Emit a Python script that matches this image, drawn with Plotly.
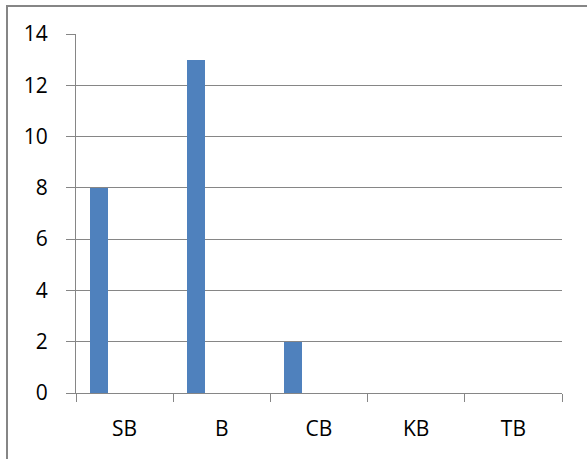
import plotly.graph_objects as go

# Counts per category
categories = ["SB", "B", "CB", "KB", "TB"]
counts = [8, 13, 2, 0, 0]

W, H = 587, 459
L, R, T, B = 76, 25, 34, 66
pw, ph = W - L - R, H - T - B

def px_x(x):
    return (x - L) / pw

def px_y(y):
    return 1 - (y - T) / ph

axis_gray = "#868686"
font = dict(family="Open Sans", size=21, color="#000000")

fig = go.Figure(
    go.Bar(
        x=categories,
        y=counts,
        marker=dict(color="#4F81BD", line=dict(width=0)),
        offset=-0.36,
        width=0.185,
    )
)

fig.update_layout(
    width=W,
    height=H,
    margin=dict(l=L, r=R, t=T, b=B, pad=0),
    paper_bgcolor="white",
    plot_bgcolor="white",
    showlegend=False,
    font=font,
    bargap=0,
    shapes=[
        # chart frame: top and left edges
        dict(type="line", xref="paper", yref="paper", layer="above",
             x0=px_x(6), x1=px_x(W), y0=px_y(6), y1=px_y(6),
             line=dict(color=axis_gray, width=2)),
        dict(type="line", xref="paper", yref="paper", layer="above",
             x0=px_x(7), x1=px_x(7), y0=px_y(5), y1=px_y(H),
             line=dict(color=axis_gray, width=2)),
    ],
)

fig.update_xaxes(
    type="category",
    range=[-0.5, 4.5],
    showgrid=False,
    showline=True,
    linecolor=axis_gray,
    linewidth=1,
    ticks="outside",
    tickson="boundaries",
    ticklen=8,
    tickcolor=axis_gray,
    tickwidth=1,
    ticklabelstandoff=17,
    tickfont=font,
    zeroline=False,
)

fig.update_yaxes(
    range=[0, 14],
    dtick=2,
    showgrid=True,
    gridcolor=axis_gray,
    gridwidth=1,
    showline=True,
    linecolor=axis_gray,
    linewidth=1,
    ticks="outside",
    ticklen=9,
    tickcolor=axis_gray,
    tickwidth=1,
    ticklabelstandoff=14,
    tickfont=font,
    zeroline=False,
)

fig.write_html("out.html")
